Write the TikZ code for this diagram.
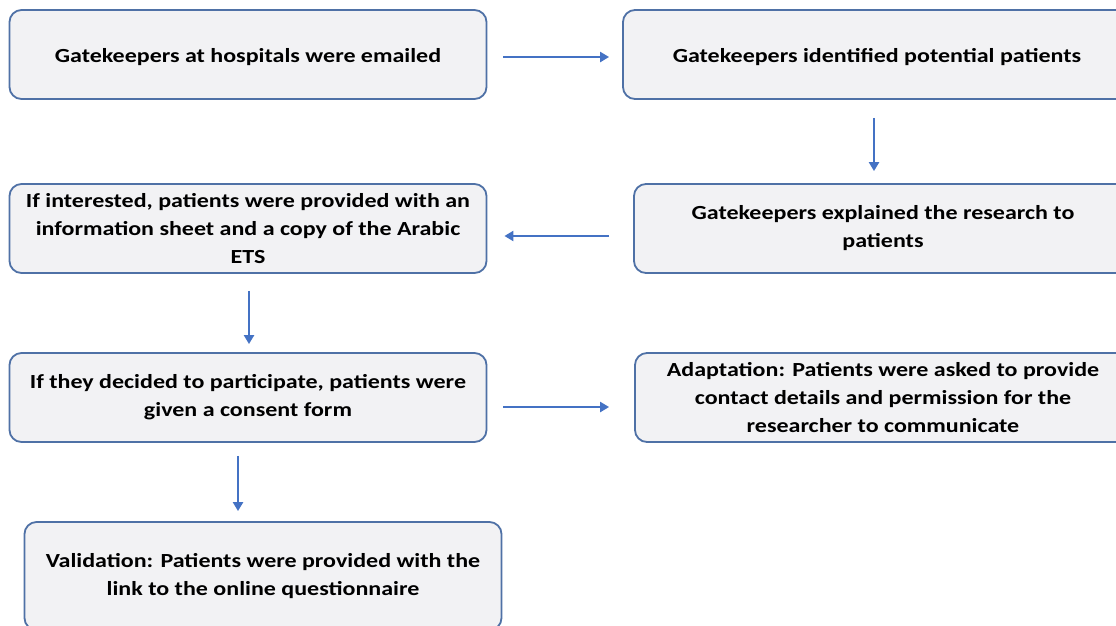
\documentclass[tikz,border=0pt]{standalone}
\usepackage{fontspec}
\setmainfont{Carlito}[FakeStretch=1.2]
\usetikzlibrary{arrows.meta}
\definecolor{boxline}{HTML}{4F71A6}
\definecolor{boxfill}{HTML}{F2F2F4}
\definecolor{arrowblue}{HTML}{4472C4}
\begin{document}
\begin{tikzpicture}[x=1pt,y=-1pt,
 box/.style={draw=boxline, line width=1.8pt, fill=boxfill, rounded corners=12pt, align=center,
   font=\fontsize{20}{28}\selectfont\bfseries, inner sep=0pt, minimum height=89pt,
   execute at begin node={\rule{0pt}{20pt}}},
 flow/.style={draw=arrowblue, line width=2.2pt, -{Triangle[length=9pt,width=10pt]}}]
\useasboundingbox[fill=white] (0,0) rectangle (1116,625);
\node[box, minimum width=477pt] (b1) at (248,54.5) {Gatekeepers at hospitals were emailed};
\node[box, minimum width=508pt] (b2) at (877,54.5) {Gatekeepers identified potential patients};
\node[box, minimum width=498pt] (b3) at (883,228.5) {Gatekeepers explained the research to\\patients};
\node[box, minimum width=477pt] (b4) at (248,228.5) {If interested, patients were provided with an\\information sheet and a copy of the Arabic\\ETS};
\node[box, minimum width=477pt] (b5) at (248,397.5) {If they decided to participate, patients were\\given a consent form};
\node[box, minimum width=496pt] (b6) at (883,397.5) {Adaptation: Patients were asked to provide\\contact details and permission for the\\researcher to communicate};
\node[box, minimum width=477pt, minimum height=108pt] (b7) at (263,576) {Validation: Patients were provided with the\\link to the online questionnaire};
\draw[flow] ([xshift=16pt,yshift=-2.5pt]b1.east) -- ([xshift=-13pt,yshift=-2.5pt]b2.west);
\draw[flow] ([xshift=-3pt,yshift=-18pt]b2.south) -- ([xshift=-9pt,yshift=12pt]b3.north);
\draw[flow] ([xshift=-24pt,yshift=-7.5pt]b3.west) -- ([xshift=17pt,yshift=-7.5pt]b4.east);
\draw[flow] ([xshift=1pt,yshift=-17pt]b4.south) -- ([xshift=1pt,yshift=8pt]b5.north);
\draw[flow] ([xshift=16pt,yshift=-9.5pt]b5.east) -- ([xshift=-25pt,yshift=-9.5pt]b6.west);
\draw[flow] ([xshift=-10pt,yshift=-13pt]b5.south) -- ([xshift=-25pt,yshift=10pt]b7.north);
\end{tikzpicture}
\end{document}
